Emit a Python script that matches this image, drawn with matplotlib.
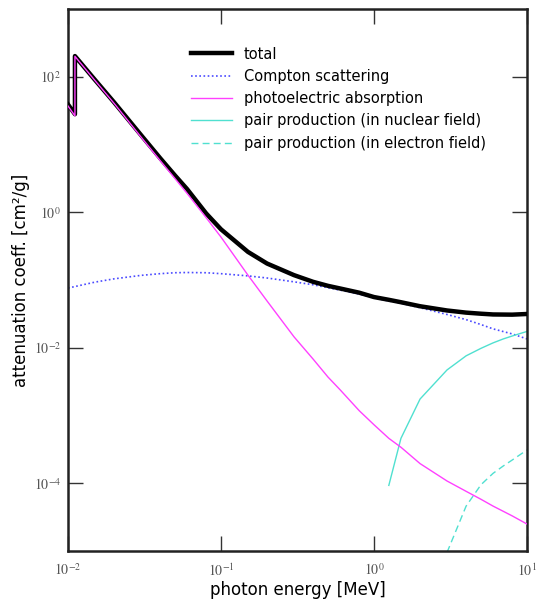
import numpy as np
import matplotlib
matplotlib.use('Agg')
from matplotlib import pyplot as plt

# energies in MeV (edge point repeated for the K edge)
energy = [0.01, 0.0111, 0.0111, 0.015, 0.02, 0.03, 0.04, 0.05, 0.06, 0.08, 0.1,
          0.15, 0.2, 0.3, 0.4, 0.5, 0.6, 0.8, 1.0, 1.25, 1.5, 2.0, 3.0, 4.0,
          5.0, 6.0, 8.0, 10.0]

total = [39, 28, 202, 90, 42, 13.8, 6.3, 3.5, 2.2, 0.96, 0.56,
         0.26, 0.175, 0.118, 0.094, 0.082, 0.075, 0.065, 0.056, 0.051, 0.047, 0.041, 0.0355, 0.033,
         0.0318, 0.031, 0.0308, 0.0315]

photo = [37, 26.5, 200, 88, 40.5, 12.9, 5.8, 3.15, 1.9, 0.83, 0.43,
         0.118, 0.049, 0.0145, 0.0068, 0.0037, 0.0024, 0.00118, 0.00073, 0.00046, 0.00034, 0.000195, 0.000108, 7.6e-5,
         5.8e-5, 4.6e-5, 3.3e-5, 2.5e-5]

e_compton = [0.01, 0.015, 0.02, 0.03, 0.04, 0.05, 0.06, 0.08, 0.1, 0.15, 0.2, 0.3,
             0.4, 0.5, 0.6, 0.8, 1.0, 1.25, 1.5, 2.0, 3.0, 4.0, 5.0, 6.0, 8.0, 10.0]
compton = [0.076, 0.093, 0.104, 0.117, 0.124, 0.128, 0.129, 0.128, 0.124, 0.115, 0.107, 0.094,
           0.085, 0.077, 0.071, 0.062, 0.0545, 0.049, 0.0455, 0.039, 0.031, 0.026, 0.022, 0.019, 0.016, 0.0135]

e_pair_n = [1.25, 1.5, 2.0, 3.0, 4.0, 5.0, 6.0, 7.0, 8.0, 9.0, 10.0]
pair_n = [9.3e-5, 4.6e-4, 1.75e-3, 4.7e-3, 7.6e-3, 9.8e-3, 0.0118, 0.0135, 0.0149, 0.0162, 0.0174]

e_pair_e = [3.0, 4.0, 5.0, 6.0, 7.0, 8.0, 10.0]
pair_e = [9.5e-6, 4.6e-5, 9.5e-5, 1.4e-4, 1.8e-4, 2.2e-4, 3.1e-4]

plt.rcParams['mathtext.fontset'] = 'stix'

fig = plt.figure(figsize=(5.38, 6.04), dpi=100)
ax = fig.add_axes([68/538, 53/604, 459/538, 542/604])

ax.plot(energy, total, color='black', lw=3.2, label='total', zorder=3)
ax.plot(e_compton, compton, color='#4a4aff', lw=1.2, ls=(0, (1, 1.5)), label='Compton scattering')
ax.plot(energy, photo, color='#ff40ff', lw=1.0, label='photoelectric absorption', zorder=4)
ax.plot(e_pair_n, pair_n, color='#50e0d0', lw=1.0, label='pair production (in nuclear field)')
ax.plot(e_pair_e, pair_e, color='#50e0d0', lw=1.0, ls=(0, (5, 3)), label='pair production (in electron field)')

ax.set_xscale('log')
ax.set_yscale('log')
ax.set_xlim(1e-2, 1e1)
ax.set_ylim(1e-5, 1e3)

ax.set_xticks([1e-2, 1e-1, 1e0, 1e1])
ax.set_xticklabels([r'$10^{-2}$', r'$10^{-1}$', r'$10^{0}$', r'$10^{1}$'])
ax.set_yticks([1e-4, 1e-2, 1e0, 1e2])
ax.set_yticklabels([r'$10^{-4}$', r'$10^{-2}$', r'$10^{0}$', r'$10^{2}$'])
ax.minorticks_off()
ax.tick_params(which='major', direction='in', length=11, width=1, color='#333333',
               top=True, right=True, labelsize=10, labelcolor='#555555')
ax.tick_params(axis='x', pad=8)
ax.tick_params(axis='y', pad=5)

for s in ax.spines.values():
    s.set_linewidth(1.8)
    s.set_color('#222222')

ax.set_xlabel('photon energy [MeV]', fontsize=12, labelpad=2)
ax.set_ylabel('attenuation coeff. [cm²/g]', fontsize=12, labelpad=3)

ax.legend(loc='upper left', bbox_to_anchor=(0.24, 0.955), frameon=False, fontsize=10.5,
          handlelength=2.8, handletextpad=0.8, labelspacing=0.5)

fig.savefig('out.png', dpi=100)
